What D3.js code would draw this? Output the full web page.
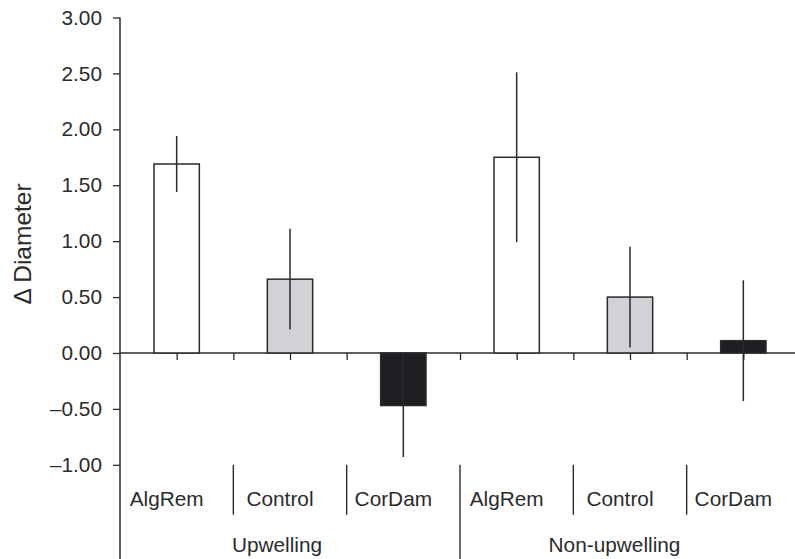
<!DOCTYPE html>
<html>
<head>
<meta charset="utf-8">
<script src="https://cdn.jsdelivr.net/npm/d3@7"></script>
<style>
  html, body { margin: 0; padding: 0; background: #fff; }
  svg { display: block; }
  text { font-family: "Liberation Sans", Arial, Helvetica, sans-serif; fill: #231f20; }
</style>
</head>
<body>
<svg id="chart" width="795" height="559"></svg>
<script>
// ---- data ----
const categories = ["AlgRem", "Control", "CorDam", "AlgRem", "Control", "CorDam"];
const groups = ["Upwelling", "Non-upwelling"];
const groupOf = [0, 0, 0, 1, 1, 1];
const means = [1.69, 0.66, -0.47, 1.75, 0.50, 0.11];
const errors = [0.25, 0.45, 0.46, 0.76, 0.45, 0.54];
const yTickValues = [-1.00, -0.50, 0.00, 0.50, 1.00, 1.50, 2.00, 2.50, 3.00];
const yTitle = "\u0394 Diameter";

// ---- layout ----
const W = 795, H = 559;
const plotLeft = 120, plotRight = 800, plotTop = 17.5, plotBottom = 464.8;
const fontSize = 20.8;
const titleSize = 24.5;
const ink = "#2b2b2b";

const svg = d3.select("#chart");

const x = d3.scaleBand().domain(d3.range(categories.length)).range([plotLeft, plotRight]).padding(0);
const bw = x.bandwidth();
const xPos = d3.scaleLinear().domain([0, categories.length]).range([plotLeft, plotRight]);
const y = d3.scaleLinear().domain([-1, 3]).range([plotBottom, plotTop]);

const fill = d3.scaleOrdinal().domain(["AlgRem", "Control", "CorDam"]).range(["#ffffff", "#d1d2d5", "#1e1f22"]);

// y axis
const yAxis = d3.axisLeft(y)
  .tickValues(yTickValues)
  .tickSize(7)
  .tickSizeOuter(0)
  .tickPadding(11)
  .tickFormat(d => d3.format(".2f")(d).replace("\u2212", "\u2013"));
const yG = svg.append("g").attr("transform", `translate(${plotLeft},0)`).call(yAxis);
yG.select(".domain").remove();
yG.selectAll(".tick line").attr("stroke", ink).attr("stroke-width", 1.3);
yG.selectAll(".tick text").attr("font-size", fontSize).attr("font-family", null).style("fill", ink);
svg.append("line").attr("x1", plotLeft).attr("x2", plotLeft).attr("y1", y(3)).attr("y2", H)
  .attr("stroke", ink).attr("stroke-width", 1.5);

// x axis at zero (ticks downward at band edges and centers)
const xAxis = d3.axisBottom(xPos)
  .tickValues(d3.range(0.5, categories.length, 0.5))
  .tickSize(7)
  .tickSizeOuter(0)
  .tickFormat("");
const xG = svg.append("g").attr("transform", `translate(0,${y(0)})`).call(xAxis);
xG.select(".domain").remove();
xG.selectAll(".tick line").attr("stroke", ink).attr("stroke-width", 1.3);
svg.append("line").attr("x1", plotLeft).attr("x2", W).attr("y1", y(0)).attr("y2", y(0))
  .attr("stroke", ink).attr("stroke-width", 1.5);

// bars
const barW = bw * 0.4;
svg.append("g").selectAll("rect").data(means).join("rect")
  .attr("x", (d, i) => x(i) + bw / 2 - barW / 2)
  .attr("width", barW)
  .attr("y", d => y(Math.max(0, d)))
  .attr("height", d => Math.abs(y(d) - y(0)))
  .attr("fill", (d, i) => fill(categories[i]))
  .attr("stroke", ink)
  .attr("stroke-width", 1.5);

// error bars
svg.append("g").selectAll("line").data(means).join("line")
  .attr("x1", (d, i) => x(i) + bw / 2)
  .attr("x2", (d, i) => x(i) + bw / 2)
  .attr("y1", (d, i) => y(d + errors[i]))
  .attr("y2", (d, i) => y(d - errors[i]))
  .attr("stroke", ink)
  .attr("stroke-width", 1.5);

// category separators
const sepTop = y(-1);
svg.append("g").selectAll("line").data(d3.range(1, categories.length)).join("line")
  .attr("x1", i => x(i)).attr("x2", i => x(i))
  .attr("y1", sepTop)
  .attr("y2", i => groupOf[i] !== groupOf[i - 1] ? H : sepTop + 50)
  .attr("stroke", ink).attr("stroke-width", 1.4);

// category labels
svg.append("g").selectAll("text").data(categories).join("text")
  .attr("x", (d, i) => x(i) + bw / 2 - 10)
  .attr("y", 506)
  .attr("text-anchor", "middle")
  .attr("font-size", fontSize)
  .style("fill", ink)
  .text(d => d);

// group labels
svg.append("g").selectAll("text").data(groups).join("text")
  .attr("x", (g, gi) => {
    const idx = d3.range(categories.length).filter(i => groupOf[i] === gi);
    const x0 = x(idx[0]);
    const x1 = Math.min(x(idx[idx.length - 1]) + bw, W);
    return (x0 + x1) / 2 - 13;
  })
  .attr("y", 552)
  .attr("text-anchor", "middle")
  .attr("font-size", fontSize)
  .style("fill", ink)
  .text(d => d);

// y title
svg.append("text")
  .attr("transform", `translate(31,${244}) rotate(-90)`)
  .attr("text-anchor", "middle")
  .attr("font-size", titleSize)
  .style("fill", ink)
  .text(yTitle);
</script>
</body>
</html>
